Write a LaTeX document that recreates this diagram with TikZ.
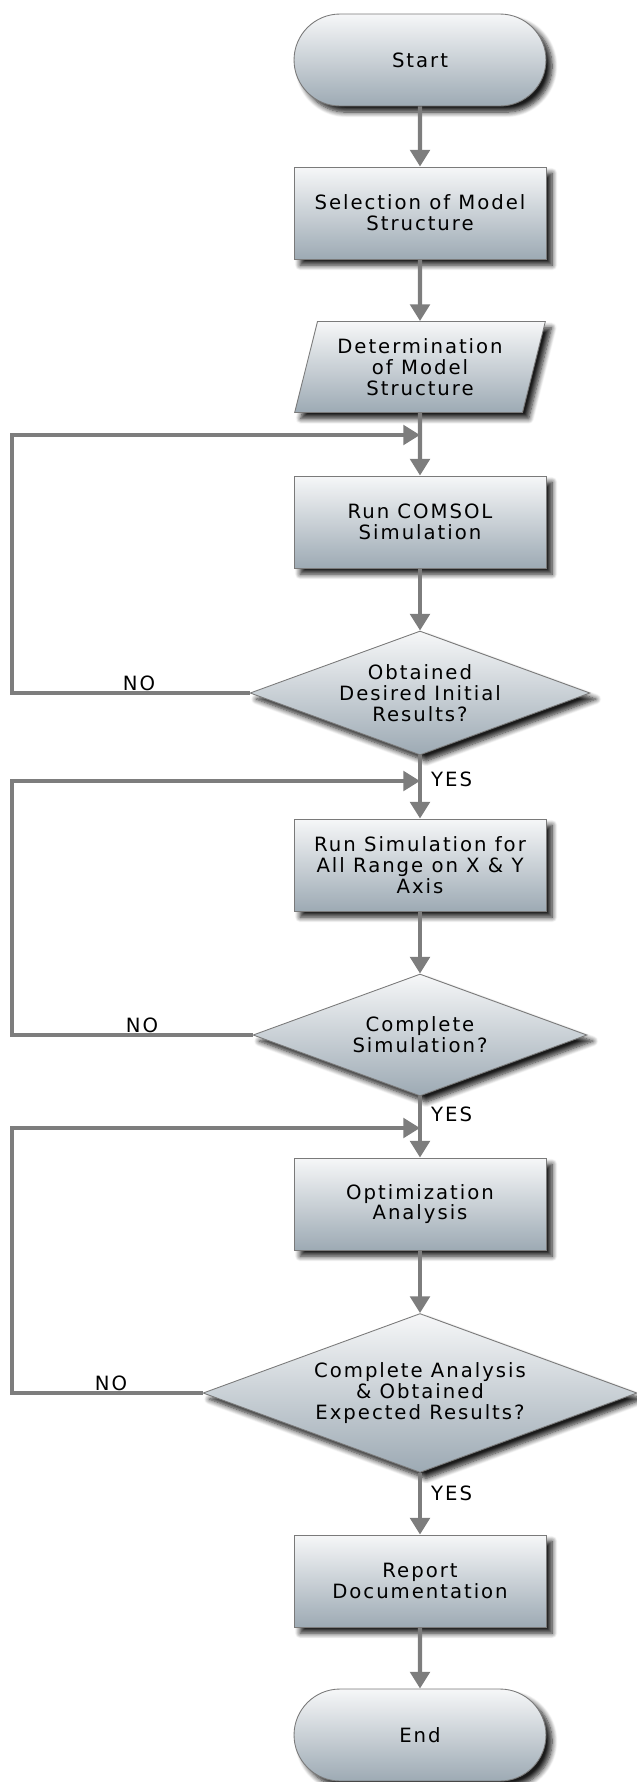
\documentclass[tikz,border=0pt]{standalone}
\usepackage{fontspec}
\setsansfont[LetterSpace=10]{DejaVu Sans}
\usepackage{tikz}
\usetikzlibrary{shapes.geometric, shapes.misc, arrows.meta, positioning, shadows, shadows.blur}
\definecolor{boxTop}{HTML}{F6F7F8}
\definecolor{boxBottom}{HTML}{9DAAB4}
\definecolor{boxLine}{HTML}{7A7A7A}
\definecolor{flowGray}{HTML}{7D7D7D}

\begin{document}
\begin{tikzpicture}[
    x=0.02cm, y=-0.02cm,
    every node/.style={font=\sffamily\fontsize{11.2}{11.8}\selectfont, align=center},
    shaded/.style={
        draw=boxLine, line width=0.5pt, top color=boxTop, bottom color=boxBottom,
        blur shadow={shadow xshift=3.5pt, shadow yshift=-3.5pt, shadow blur radius=3pt,
            shadow blur steps=8, shadow opacity=90}
    },
    process/.style={shaded, rectangle, minimum width=5.04cm, minimum height=1.84cm, inner sep=0pt},
    terminal/.style={shaded, rounded rectangle, minimum width=5.04cm, minimum height=1.84cm, inner sep=0pt},
    io/.style={shaded, trapezium, trapezium left angle=72, trapezium right angle=108,
        trapezium stretches=true, minimum width=5.02cm, minimum height=1.82cm, inner sep=0pt},
    decision/.style={shaded, diamond, inner sep=0pt},
    flow/.style={draw=flowGray, line width=2.4pt, -{Triangle[width=11pt, length=9.5pt]}},
    tag/.style={inner sep=1pt}
]
    \useasboundingbox (0,0) rectangle (636,1782);

    \node[terminal] (start) at (420,60) {Start};
    \node[process] (select) at (420,213) {Selection of Model\\Structure};
    \node[io] (determ) at (420,367) {Determination\\of Model\\Structure};
    \node[process] (comsol) at (420,522) {Run COMSOL\\Simulation};
    \node[decision, aspect=2.74, minimum width=6.8cm, minimum height=2.48cm] (initial) at (420,693)
        {Obtained\\Desired Initial\\Results?};
    \node[process] (allrange) at (420,865) {Run Simulation for\\All Range on X \& Y\\Axis};
    \node[decision, aspect=2.74, minimum width=6.68cm, minimum height=2.44cm] (simdone) at (420,1035)
        {Complete\\Simulation?};
    \node[process] (optim) at (420,1204) {Optimization\\Analysis};
    \node[decision, aspect=2.73, minimum width=8.68cm, minimum height=3.18cm] (analysis) at (420,1393)
        {Complete Analysis\\\& Obtained\\Expected Results?};
    \node[process] (report) at (420,1581) {Report\\Documentation};
    \node[terminal] (end) at (420,1735) {End};

    % loop-back points
    \coordinate (rail) at (12,0);
    \coordinate (join1) at (420,435);
    \coordinate (join2) at (420,781);
    \coordinate (join3) at (420,1128);

    \draw[flow] (start) -- (select);
    \draw[flow] (select) -- (determ);
    \draw[flow] (determ) -- (comsol);
    \draw[flow] (comsol) -- (initial);
    \draw[flow] (initial) -- (allrange);
    \draw[flow] (allrange) -- (simdone);
    \draw[flow] (simdone) -- (optim);
    \draw[flow] (optim) -- (analysis);
    \draw[flow] (analysis) -- (report);
    \draw[flow] (report) -- (end);

    \draw[flow] (initial.west) -| (rail |- join1) -- (join1);
    \draw[flow] (simdone.west) -| (rail |- join2) -- (join2);
    \draw[flow] (analysis.west) -| (rail |- join3) -- (join3);

    \node[tag, anchor=south] (no1) at (139,693) {NO};
    \node[tag, anchor=south] (no2) at (142,1035) {NO};
    \node[tag, anchor=south] (no3) at (111,1393) {NO};
    \node[tag, anchor=west] (yes1) at (429,779) {YES};
    \node[tag, anchor=west] (yes2) at (429,1114) {YES};
    \node[tag, anchor=west] (yes3) at (429,1493) {YES};
\end{tikzpicture}
\end{document}
